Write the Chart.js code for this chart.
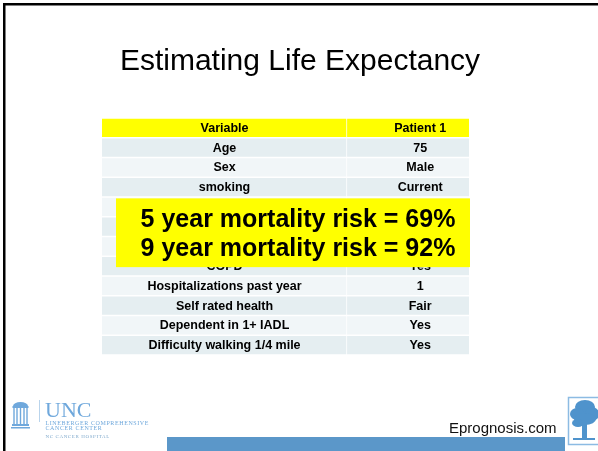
<!DOCTYPE html>
<html>
<head>
<meta charset="utf-8">
<script src="https://cdn.jsdelivr.net/npm/chart.js@4"></script>
<style>
  html,body{margin:0;padding:0;background:#fff;}
  #wrap{width:598px;height:451px;position:relative;}
</style>
</head>
<body>
<div id="wrap"><canvas id="slide" width="598" height="451"></canvas></div>
<script>
// table data
const header    = ['Variable','Patient 1'];
const variables = ['Age','Sex','smoking','','','','COPD','Hospitalizations past year','Self rated health','Dependent in 1+ IADL','Difficulty walking 1/4 mile'];
const patient1  = ['75','Male','Current','','','','Yes','1','Fair','Yes','Yes'];
const colShare  = [245,122];
const title     = 'Estimating Life Expectancy';
const callout   = ['5 year mortality risk = 69%','9 year mortality risk = 92%'];
const site      = 'Eprognosis.com';

const rows = [header[0]].concat(variables);
const vals = [header[1]].concat(patient1);
const rowColors = rows.map((r,i)=> i===0 ? '#ffff00' : (i%2===1 ? '#e5eef1' : '#f1f6f8'));
const FONT = '"Liberation Sans", Arial, sans-serif';
const SERIF = '"Liberation Serif", "Times New Roman", serif';

const slidePlugin = {
  id:'slide',
  beforeDraw(chart){
    const c = chart.ctx;
    c.save();
    c.fillStyle = '#fff';
    c.fillRect(0,0,chart.width,chart.height);
    c.restore();
  },
  afterDatasetsDraw(chart){
    const c = chart.ctx;
    c.save();
    c.fillStyle = '#000';
    c.textAlign = 'center';
    c.textBaseline = 'middle';
    c.font = 'bold 12.5px '+FONT;
    const m0 = chart.getDatasetMeta(0), m1 = chart.getDatasetMeta(1);
    rows.forEach((t,i)=>{
      const b0 = m0.data[i], b1 = m1.data[i];
      if(t) c.fillText(t, (b0.x+b0.base)/2, b0.y+0.5);
      if(vals[i]) c.fillText(vals[i], b1.base+(b1.x-b1.base)*0.6, b1.y+0.5);
    });
    c.restore();
  },
  afterDraw(chart){
    const c = chart.ctx;
    const a = chart.chartArea;
    c.save();

    // slide border (top & left visible)
    c.fillStyle = '#000';
    c.fillRect(3,3,chart.width,2.5);
    c.fillRect(3,3,2.5,chart.height);

    // title
    c.fillStyle = '#000';
    c.textAlign = 'center';
    c.textBaseline = 'alphabetic';
    c.font = '30px '+FONT;
    c.fillText(title, 300, 70);

    // callout box over hidden rows
    const yS = chart.scales.y;
    const top = yS.getPixelForValue(4) - 9.5 + 1;
    const bot = yS.getPixelForValue(7) + 1;
    c.fillStyle = '#ffff00';
    c.fillRect(116, top, a.right+1-116, bot-top);
    c.fillStyle = '#000';
    c.font = 'bold 25px '+FONT;
    c.fillText(callout[0], 298, top+29);
    c.fillText(callout[1], 298, top+58);

    // footer bar
    c.fillStyle = '#5b97c9';
    c.fillRect(167,437,398,14);

    // Eprognosis text
    c.fillStyle = '#111';
    c.textAlign = 'left';
    c.font = '15px '+FONT;
    c.fillText(site, 449, 432.5);

    // tree logo
    c.fillStyle = '#fff';
    c.fillRect(568,397,30,48);
    c.strokeStyle = '#8cbbe3';
    c.lineWidth = 1.5;
    c.strokeRect(568.5,397.5,31,47);
    c.fillStyle = '#4f93cc';
    [[585,407,10,7],[577,414,7,6],[592,414,7,7],[585,419,11,6],[578,423,6,4]].forEach(e=>{
      c.beginPath(); c.ellipse(e[0],e[1],e[2],e[3],0,0,Math.PI*2); c.fill();
    });
    c.fillRect(582,420,5,19);
    c.fillRect(573,438,22,2);

    // UNC logo: old well icon
    c.fillStyle = '#6fa8dc';
    c.beginPath(); c.ellipse(20.5,406,7.5,4,0,Math.PI,0); c.fill();
    c.fillRect(12.5,406,16,2);
    [14,17,20.5,24,27].forEach(x=>{ c.fillRect(x-0.7,408,1.4,16); });
    c.fillRect(12,424,17,2);
    c.fillRect(11,427,19,1.5);
    // divider
    c.fillStyle = '#b9d4ec';
    c.fillRect(39,400,1,22);
    // UNC wordmark
    c.fillStyle = '#6fa8dc';
    c.font = '22px '+SERIF;
    c.fillText('UNC', 45, 417);
    c.letterSpacing = '0.6px';
    c.font = '6px '+SERIF;
    c.fillText('LINEBERGER COMPREHENSIVE', 45.5, 424.5);
    c.fillText('CANCER CENTER', 45.5, 430);
    c.fillStyle = '#7fa9cc';
    c.font = '5px '+SERIF;
    c.fillText('NC CANCER HOSPITAL', 45.5, 437.5);
    c.letterSpacing = '0px';

    c.restore();
  }
};

new Chart(document.getElementById('slide'),{
  type:'bar',
  data:{
    labels:rows,
    datasets:[
      {label:header[0],data:rows.map(()=>colShare[0]),backgroundColor:rowColors,
       borderColor:'#fff',borderWidth:{top:1,bottom:1,left:0,right:1},borderSkipped:false},
      {label:header[1],data:rows.map(()=>colShare[1]),backgroundColor:rowColors,
       borderColor:'#fff',borderWidth:{top:1,bottom:1,left:0,right:0},borderSkipped:false}
    ]
  },
  options:{
    indexAxis:'y',responsive:false,animation:false,
    layout:{padding:{left:102,right:129,top:118,bottom:96}},
    datasets:{bar:{categoryPercentage:1,barPercentage:1}},
    scales:{
      x:{stacked:true,display:false,min:0,max:colShare[0]+colShare[1]},
      y:{stacked:true,display:false}
    },
    plugins:{legend:{display:false},tooltip:{enabled:false}}
  },
  plugins:[slidePlugin]
});
</script>
</body>
</html>
